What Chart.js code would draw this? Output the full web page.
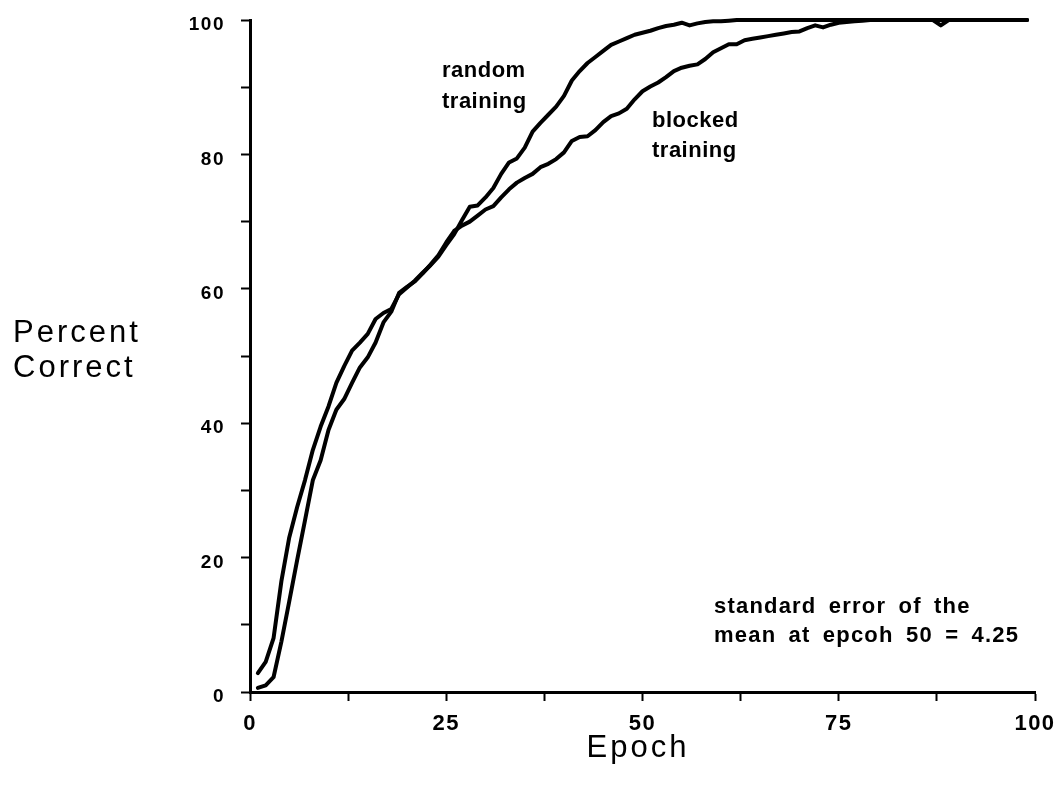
<!DOCTYPE html>
<html>
<head>
<meta charset="utf-8">
<script src="https://cdn.jsdelivr.net/npm/chart.js@4"></script>
<style>
  html, body { margin: 0; padding: 0; background: #fff; }
  canvas { display: block; }
</style>
</head>
<body>
<canvas id="c" width="1064" height="794"></canvas>
<script>
// ---- data ----
const epochs = [];
for (let i = 1; i <= 99; i++) epochs.push(i);

const randomTraining = [
  2.8, 4.5, 8, 16.5, 23, 27.5, 31.5, 36, 39.5, 42.5,
  46, 48.5, 50.8, 52, 53.3, 55.5, 56.4, 57, 59.2, 60.2,
  61.2, 62.4, 63.5, 64.8, 66.5, 68.1, 70.2, 72.2, 72.4, 73.6,
  75, 77.1, 78.8, 79.4, 81, 83.4, 84.7, 85.9, 87.1, 88.7,
  91, 92.4, 93.6, 94.5, 95.4, 96.3, 96.8, 97.3, 97.8, 98.1,
  98.4, 98.8, 99.1, 99.3, 99.6, 99.2, 99.5, 99.7, 99.8, 99.8,
  99.9, 100, 100, 100, 100, 100, 100, 100, 100, 100,
  100, 100, 100, 100, 100, 100, 100, 100, 100, 100,
  100, 100, 100, 100, 100, 100, 100, 100, 100, 100,
  100, 100, 100, 100, 100, 100, 100, 100, 100
];

const blockedTraining = [
  0.6, 1, 2.2, 7.5, 13.5, 19.6, 25.5, 31.5, 34.5, 39,
  42, 43.6, 46, 48.3, 49.8, 52, 55, 56.6, 59.4, 60.3,
  61.1, 62.3, 63.6, 65, 66.9, 68.6, 69.4, 70, 70.9, 71.8,
  72.3, 73.6, 74.8, 75.8, 76.5, 77.1, 78.1, 78.6, 79.3, 80.3,
  82, 82.6, 82.7, 83.6, 84.8, 85.7, 86.1, 86.8, 88.2, 89.4,
  90.1, 90.7, 91.5, 92.4, 92.9, 93.2, 93.4, 94.2, 95.2, 95.8,
  96.4, 96.4, 97, 97.2, 97.4, 97.6, 97.8, 98, 98.2, 98.3,
  98.8, 99.2, 98.9, 99.3, 99.6, 99.7, 99.8, 99.9, 100, 100,
  100, 100, 100, 100, 100, 100, 100, 99.2, 100, 100,
  100, 100, 100, 100, 100, 100, 100, 100, 100
];

const xTickLabels = [0, 25, 50, 75, 100];
const yTickLabels = [0, 20, 40, 60, 80, 100];

const FONT = '"Liberation Sans", Arial, Helvetica, sans-serif';

const toPoints = (vals) => epochs.map((e, i) => ({ x: e, y: vals[i] }));

const textPlugin = {
  id: 'texts',
  beforeDraw(chart) {
    chart.ctx.letterSpacing = '1.5px';
  },
  afterDraw(chart) {
    const ctx = chart.ctx;
    ctx.save();
    ctx.fillStyle = '#000';
    ctx.textAlign = 'left';
    ctx.textBaseline = 'alphabetic';

    // annotations
    ctx.font = 'bold 22px ' + FONT;
    ctx.letterSpacing = '0.5px';
    ctx.wordSpacing = '0px';
    ctx.fillText('random', 442, 77);
    ctx.fillText('training', 442, 108);
    ctx.fillText('blocked', 652, 127);
    ctx.fillText('training', 652, 157);
    ctx.letterSpacing = '1.2px';
    ctx.wordSpacing = '5px';
    ctx.fillText('standard error of the', 714, 613);
    ctx.fillText('mean at epcoh 50 = 4.25', 714, 642);

    // axis titles
    ctx.wordSpacing = '0px';
    ctx.font = '31px ' + FONT;
    ctx.letterSpacing = '3px';
    ctx.fillText('Percent', 13, 342);
    ctx.fillText('Correct', 13, 377);
    ctx.textAlign = 'center';
    ctx.fillText('Epoch', 638, 757);
    ctx.restore();
  }
};

new Chart(document.getElementById('c'), {
  type: 'line',
  data: {
    datasets: [
      {
        label: 'random training',
        data: toPoints(randomTraining),
        borderColor: '#000',
        borderWidth: 4,
        pointRadius: 0,
        tension: 0,
        borderJoinStyle: 'round',
        borderCapStyle: 'round',
        clip: false
      },
      {
        label: 'blocked training',
        data: toPoints(blockedTraining),
        borderColor: '#000',
        borderWidth: 4,
        pointRadius: 0,
        tension: 0,
        borderJoinStyle: 'round',
        borderCapStyle: 'round',
        clip: false
      }
    ]
  },
  options: {
    responsive: false,
    animation: false,
    devicePixelRatio: 1,
    layout: { padding: { left: 0, top: 20, right: 29, bottom: 0 } },
    plugins: {
      legend: { display: false },
      tooltip: { enabled: false }
    },
    scales: {
      x: {
        type: 'linear',
        min: 0,
        max: 100,
        afterFit: (s) => { s.height = 102; s.paddingRight = 0; s.paddingLeft = 0; },
        border: { display: true, color: '#000', width: 3 },
        grid: { drawOnChartArea: false, drawTicks: true, tickLength: 9, tickWidth: 2, tickColor: '#000' },
        ticks: {
          stepSize: 12.5,
          autoSkip: false,
          maxRotation: 0,
          padding: 10,
          color: '#000',
          font: { family: FONT, size: 22, weight: 'bold' },
          callback: (v) => xTickLabels.includes(v) ? String(v) : ''
        }
      },
      y: {
        min: 0,
        max: 100,
        afterFit: (s) => { s.width = 250; s.paddingTop = 0; s.paddingBottom = 0; },
        border: { display: true, color: '#000', width: 3 },
        grid: { drawOnChartArea: false, drawTicks: true, tickLength: 9, tickWidth: 2, tickColor: '#000' },
        ticks: {
          stepSize: 10,
          autoSkip: false,
          padding: 16,
          labelOffset: 5,
          color: '#000',
          font: { family: FONT, size: 19, weight: 'bold' },
          callback: (v) => yTickLabels.includes(v) ? String(v) : ''
        }
      }
    }
  },
  plugins: [textPlugin]
});
</script>
</body>
</html>
